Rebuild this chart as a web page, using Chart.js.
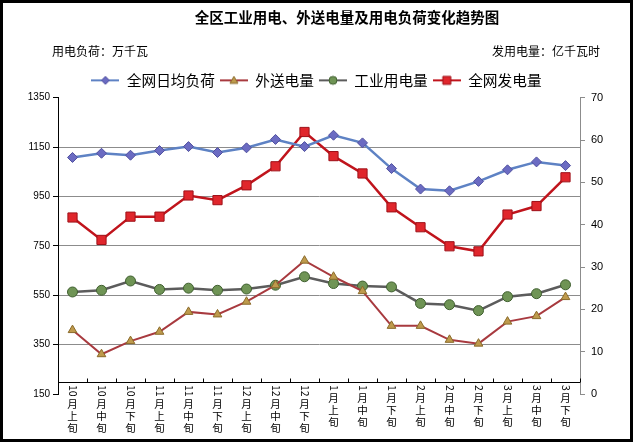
<!DOCTYPE html>
<html>
<head>
<meta charset="utf-8">
<script src="https://cdn.jsdelivr.net/npm/chart.js@4"></script>
<style>
  body { margin: 0; background: #fff; }
  canvas { display: block; }
</style>
</head>
<body>
<canvas id="chart" width="633" height="442"></canvas>
<script>
const categories = [
  "10月上旬", "10月中旬", "10月下旬",
  "11月上旬", "11月中旬", "11月下旬",
  "12月上旬", "12月中旬", "12月下旬",
  "1月上旬", "1月中旬", "1月下旬",
  "2月上旬", "2月中旬", "2月下旬",
  "3月上旬", "3月中旬", "3月下旬",
];
// 万千瓦 (left axis)
const avgLoad = [1108, 1125, 1117, 1136, 1152, 1128, 1147, 1181, 1152, 1198, 1167, 1063, 980, 973, 1011, 1058, 1090, 1075];
// 亿千瓦时 (right axis)
const exportPower = [15.1, 9.4, 12.5, 14.7, 19.4, 18.8, 21.8, 25.7, 31.5, 27.7, 24.3, 16.1, 16.1, 12.8, 11.9, 17.1, 18.4, 22.9];
const industryPower = [24.1, 24.5, 26.7, 24.7, 25.0, 24.5, 24.8, 25.7, 27.7, 26.1, 25.5, 25.3, 21.4, 21.1, 19.7, 23.0, 23.7, 25.8];
const totalGen = [41.7, 36.4, 41.9, 41.9, 46.9, 45.8, 49.3, 53.8, 61.9, 56.2, 52.1, 44.1, 39.4, 34.9, 33.7, 42.4, 44.4, 51.2];

const leftTicks = { min: 150, max: 1350, step: 200 };
const rightTicks = { min: 0, max: 70, step: 10 };

const CJK = '"Noto Sans CJK SC", sans-serif';

// small "line + marker" icon for the legend
function legendIcon(lineColor, fill, border, shape) {
  const c = document.createElement("canvas");
  c.width = 28;
  c.height = 12;
  const g = c.getContext("2d");
  g.strokeStyle = lineColor;
  g.lineWidth = 2;
  g.beginPath();
  g.moveTo(0, 6);
  g.lineTo(28, 6);
  g.stroke();
  g.fillStyle = fill;
  g.strokeStyle = border;
  g.lineWidth = 1;
  g.beginPath();
  if (shape === "diamond") {
    g.moveTo(14, 2); g.lineTo(18, 6); g.lineTo(14, 10); g.lineTo(10, 6); g.closePath();
  } else if (shape === "triangle") {
    g.moveTo(14, 2); g.lineTo(18, 9); g.lineTo(10, 9); g.closePath();
  } else if (shape === "circle") {
    g.arc(14, 6, 4, 0, Math.PI * 2);
  } else {
    g.rect(10, 2, 8, 8);
  }
  g.fill();
  g.stroke();
  return c;
}

const titleAndFrame = {
  id: "titleAndFrame",
  afterDraw(chart) {
    const { ctx } = chart;
    ctx.save();
    ctx.fillStyle = "#000";
    ctx.textBaseline = "middle";
    ctx.textAlign = "center";
    ctx.font = "bold 14.5px " + CJK;
    ctx.fillText("全区工业用电、外送电量及用电负荷变化趋势图", 347, 17);
    ctx.font = "12px " + CJK;
    ctx.textAlign = "left";
    ctx.fillText("用电负荷：万千瓦", 52, 51);
    ctx.textAlign = "right";
    ctx.fillText("发用电量：亿千瓦时", 600, 51);

    // category axis crosses the value axis a little above the bottom
    const y = Math.round(chart.scales.y.getPixelForValue(200)) + 0.5;
    const xs = chart.scales.x;
    const { left, right, bottom } = chart.chartArea;
    ctx.strokeStyle = "#000";
    ctx.lineWidth = 1;
    ctx.beginPath();
    ctx.moveTo(left, y);
    ctx.lineTo(right, y);
    const band = (right - left) / categories.length;
    for (let i = 0; i <= categories.length; i++) {
      const px = Math.round(xs.getPixelForValue(0) - band / 2 + i * band) + 0.5;
      ctx.moveTo(px, y);
      ctx.lineTo(px, y - 4);
    }
    ctx.stroke();

    // vertical category labels: month digits turned sideways, characters stacked
    ctx.font = "10.5px " + CJK;
    categories.forEach((s, i) => {
      const cx = xs.getPixelForValue(i);
      const k = s.indexOf("月");
      const digits = s.slice(0, k);
      let cy = bottom - 9;
      const w = ctx.measureText(digits).width;
      ctx.save();
      ctx.translate(cx, cy);
      ctx.rotate(Math.PI / 2);
      ctx.textAlign = "left";
      ctx.fillText(digits, 0, 0);
      ctx.restore();
      cy += w + 1;
      ctx.textAlign = "center";
      for (const ch of s.slice(k)) {
        ctx.fillText(ch, cx, cy + 6);
        cy += 12;
      }
    });

    ctx.lineWidth = 3;
    ctx.strokeRect(1.5, 1.5, chart.width - 3, chart.height - 3);
    ctx.restore();
  },
};

new Chart(document.getElementById("chart"), {
  type: "line",
  data: {
    labels: categories,
    datasets: [
      {
        label: "全网日均负荷",
        data: avgLoad,
        yAxisID: "y",
        borderColor: "#5E82C4",
        borderWidth: 2.5,
        pointStyle: "rectRot",
        pointRadius: 5,
        pointBackgroundColor: "#6B6BC2",
        pointBorderColor: "#4F4F9E",
        pointBorderWidth: 1,
        icon: legendIcon("#5E82C4", "#6B6BC2", "#4F4F9E", "diamond"),
      },
      {
        label: "外送电量",
        data: exportPower,
        yAxisID: "y2",
        borderColor: "#A83A3F",
        borderWidth: 2,
        pointStyle: "triangle",
        pointRadius: 5,
        pointBackgroundColor: "#BE9A4C",
        pointBorderColor: "#8A6A2A",
        pointBorderWidth: 1,
        icon: legendIcon("#A83A3F", "#BE9A4C", "#8A6A2A", "triangle"),
      },
      {
        label: "工业用电量",
        data: industryPower,
        yAxisID: "y2",
        borderColor: "#5C5C5C",
        borderWidth: 2.5,
        pointStyle: "circle",
        pointRadius: 5,
        pointBackgroundColor: "#6F9455",
        pointBorderColor: "#3F5F2F",
        pointBorderWidth: 1,
        icon: legendIcon("#5C5C5C", "#6F9455", "#3F5F2F", "circle"),
      },
      {
        label: "全网发电量",
        data: totalGen,
        yAxisID: "y2",
        borderColor: "#C0141C",
        borderWidth: 2.5,
        pointStyle: "rect",
        pointRadius: 6.5,
        pointBackgroundColor: "#E0262C",
        pointBorderColor: "#9E1018",
        pointBorderWidth: 1,
        icon: legendIcon("#C0141C", "#E0262C", "#9E1018", "square"),
      },
    ],
  },
  options: {
    responsive: false,
    animation: false,
    layout: { padding: { top: 68, left: 0, right: 0, bottom: 0 } },
    plugins: {
      title: { display: false },
      tooltip: { enabled: false },
      legend: {
        position: "top",
        labels: {
          usePointStyle: true,
          pointStyleWidth: 28,
          padding: 5,
          color: "#000",
          font: { family: CJK, size: 14.7 },
          generateLabels(chart) {
            return chart.data.datasets.map((ds, i) => ({
              text: ds.label,
              pointStyle: ds.icon,
              fillStyle: ds.pointBackgroundColor,
              strokeStyle: ds.borderColor,
              lineWidth: 0,
              hidden: false,
              datasetIndex: i,
              fontColor: "#000",
            }));
          },
        },
      },
    },
    scales: {
      x: {
        offset: true,
        border: { display: false },
        grid: { display: false, drawTicks: false },
        ticks: { display: false },
        afterFit(scale) { scale.height = 48; },
      },
      y: {
        position: "left",
        min: leftTicks.min,
        max: leftTicks.max,
        afterFit(scale) { scale.width = 58; },
        border: { display: true, color: "#000", width: 1 },
        grid: {
          color: (ctx) =>
            ctx.tick && (ctx.tick.value === leftTicks.min || ctx.tick.value === leftTicks.max)
              ? "rgba(0,0,0,0)" : "#8C8C8C",
          lineWidth: 1,
          tickColor: "#000",
          tickLength: 5,
        },
        ticks: {
          stepSize: leftTicks.step,
          padding: 3,
          color: "#000",
          font: { family: '"Liberation Sans", sans-serif', size: 10 },
          callback: (v) => String(v),
        },
      },
      y2: {
        position: "right",
        min: rightTicks.min,
        max: rightTicks.max,
        afterFit(scale) { scale.width = 53; },
        border: { display: true, color: "#8C8C8C", width: 1 },
        grid: { drawOnChartArea: false, tickColor: "#8C8C8C", tickLength: 5 },
        ticks: {
          stepSize: rightTicks.step,
          padding: 6,
          color: "#000",
          font: { family: '"Liberation Sans", sans-serif', size: 11 },
        },
      },
    },
  },
  plugins: [titleAndFrame],
});
</script>
</body>
</html>
